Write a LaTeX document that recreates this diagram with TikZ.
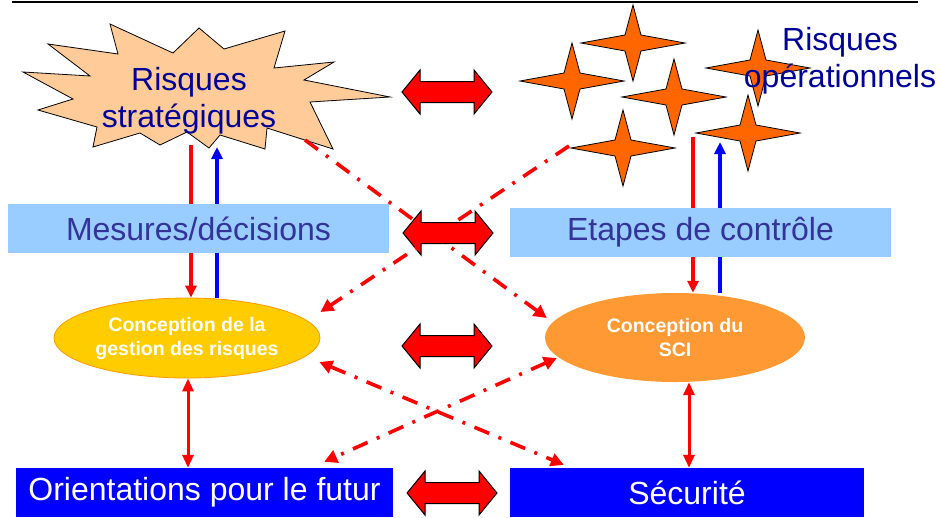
\documentclass[tikz,border=0pt]{standalone}
\usepackage{fontspec}
\setmainfont{Liberation Sans}
\usetikzlibrary{arrows.meta,shapes.geometric}
\definecolor{peach}{HTML}{FFCC99}
\definecolor{stratblue}{HTML}{000099}
\definecolor{lightblue}{HTML}{99CCFF}
\definecolor{boxtext}{HTML}{333399}
\definecolor{starorange}{HTML}{FF6600}
\definecolor{gold}{HTML}{FFCC00}
\definecolor{goldedge}{HTML}{FF9900}
\definecolor{sciorange}{HTML}{FF9933}
\definecolor{deepblue}{HTML}{0000FF}
\begin{document}
\begin{tikzpicture}[x=1pt,y=-1pt,
    bigtext/.style={font=\fontsize{32}{37}\selectfont},
    lightbox/.style={fill=lightblue,minimum width=381pt,minimum height=49pt,inner sep=0pt,text=boxtext,bigtext},
    darkbox/.style={fill=deepblue,minimum height=49pt,inner sep=0pt,text=white,bigtext},
    oval/.style={ellipse,inner sep=0pt,text=white,align=center,font=\fontsize{19.5}{24}\selectfont\bfseries},
    star4/.style={fill=starorange,draw=black,line width=0.8pt},
    flow/.style={line width=3.5pt,-{Triangle[length=12pt,width=11pt]}},
    link/.style={red,line width=3pt,{Triangle[length=13pt,width=11pt]}-{Triangle[length=13pt,width=11pt]}},
    crossing/.style={red,line width=3.6pt,dash pattern=on 16pt off 10pt on 3pt off 10pt},
    bigarrow/.style={fill=red,draw=black,line width=1pt}]
    \useasboundingbox (0,0) rectangle (941,517);
    \draw[line width=2pt] (12,1.5) -- (918,1.5);
    % explosion
    \draw[fill=peach,line width=0.8pt] (110,24) -- (173,53) -- (199,28) -- (224,49) -- (285,31) -- (274,68)
        -- (334,62) -- (304,80) -- (390,97) -- (310,102) -- (333,149) -- (267,128) -- (265,149)
        -- (220,135) -- (209,148) -- (187,132) -- (160,145) -- (140,133) -- (93,147) -- (97,127)
        -- (38,110) -- (73,99) -- (23,72) -- (90,76) -- (48,44) -- (118,54) -- cycle;
    \node[bigtext,text=stratblue,align=center] (strat) at (189,101) {Risques\\stratégiques};
    % etoiles
    \foreach \cx/\cy in {633/43,572/81,674/97,758/68,748/133,623/148} {
        \begin{scope}[shift={(\cx,\cy)}]
            \draw[star4] (0,-38) -- (8,-8) -- (52,0) -- (8,8) -- (0,38) -- (-8,8) -- (-52,0) -- (-8,-8) -- cycle;
        \end{scope}
    }
    \node[bigtext,text=stratblue,align=center] (oper) at (840,61) {Risques\\opérationnels};
    % ellipses
    \node[oval,fill=gold,draw=goldedge,line width=0.8pt,minimum width=266pt,minimum height=80pt] (gestion) at (187,338) {Conception de la\\gestion des risques};
    \node[oval,fill=sciorange,minimum width=260pt,minimum height=89pt] (sci) at (675,337.5) {Conception du\\SCI};
    % fleches verticales
    \coordinate (sR) at (191,145);
    \coordinate (sB) at (217,147);
    \coordinate (oR) at (693,137);
    \coordinate (oB) at (720,142);
    \draw[flow,red] (sR) -- (sR |- gestion.north);
    \draw[flow,blue] (sB |- gestion.north) -- (sB);
    \draw[flow,red] (oR) -- (oR |- sci.north);
    \draw[flow,blue] (oB |- sci.north) -- (oB);
    % boites
    \node[lightbox] (mesures) at (198.5,228.5) {Mesures/décisions};
    \node[lightbox] (etapes) at (700.5,232.5) {Etapes de contrôle};
    \node[darkbox,minimum width=377pt] (orient) at (204.5,492.5) {Orientations pour le futur};
    \node[darkbox,minimum width=354pt] (secu) at (687,492.5) {Sécurité};
    \draw[link] ([xshift=1pt]gestion.south) -- ([xshift=1pt]gestion.south |- orient.north);
    \draw[link] ([xshift=14pt]sci.south) -- ([xshift=14pt]sci.south |- secu.north);
    % doubles fleches
    \foreach \cx/\cy in {447/92,448/233,447/346,452/493} {
        \begin{scope}[shift={(\cx,\cy)}]
            \draw[bigarrow] (-45,0) -- (-27,-22) -- (-27,-10.5) -- (27,-10.5) -- (27,-22) -- (45,0)
                -- (27,22) -- (27,10.5) -- (-27,10.5) -- (-27,22) -- cycle;
        \end{scope}
    }
    % liens croises
    \coordinate (stratedge) at (305,140);
    \coordinate (operedge) at (569,146);
    \draw[crossing,-{Triangle[length=13pt,width=13pt]}] (stratedge) -- ([shift={(2,-19.5)}]sci.west);
    \draw[crossing,-{Triangle[length=13pt,width=13pt]}] (operedge) -- ([shift={(0,-26)}]gestion.east);
    \draw[crossing,{Triangle[length=13pt,width=13pt]}-{Triangle[length=13pt,width=13pt]}] ([shift={(-1,24)}]gestion.east) -- ([shift={(54,-3)}]secu.north west);
    \draw[crossing,{Triangle[length=13pt,width=13pt]}-{Triangle[length=13pt,width=13pt]}] ([shift={(12,20.5)}]sci.west) -- ([shift={(-69,-6)}]orient.north east);
\end{tikzpicture}
\end{document}
